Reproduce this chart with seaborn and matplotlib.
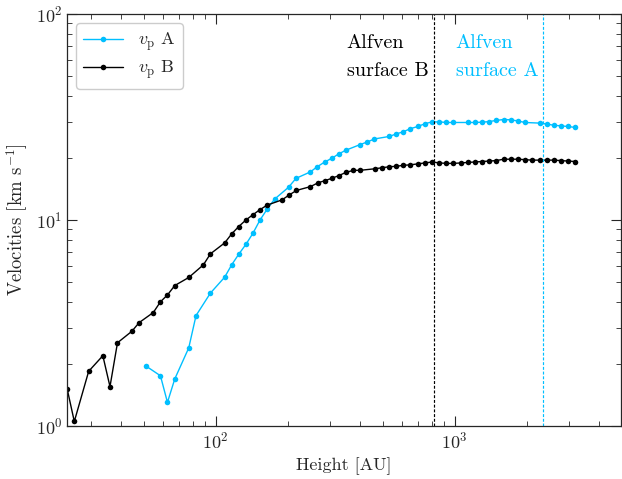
import numpy as np
import pandas as pd
import matplotlib
matplotlib.use("Agg")
import matplotlib.pyplot as plt
import seaborn as sns

# ---- data ----
height_a = [51.1, 58.7, 62.8, 67.4, 77.1, 82.7, 95.0, 109, 116.6, 124.8, 133.9, 143.2, 153, 164.3,
            176.2, 201.7, 216.6, 249, 265.6, 285.9, 305.8, 327.1, 350.8, 401.9, 431, 461, 531,
            568, 610, 652, 700, 751, 804, 863, 923, 988, 1133, 1213, 1301, 1392, 1494, 1600,
            1717, 1837, 1968, 2263, 2421, 2596, 2778, 2981, 3186]
vp_a = [1.95, 1.75, 1.30, 1.69, 2.39, 3.43, 4.41, 5.27, 6.05, 6.81, 7.62, 8.62, 9.96, 11.3,
        12.6, 14.4, 15.9, 17.1, 18.1, 19.1, 19.9, 20.9, 21.8, 23.2, 23.9, 24.7, 25.4,
        26.1, 26.8, 27.7, 28.4, 29.3, 29.9, 29.9, 29.7, 29.7, 29.7, 29.7, 29.8, 30.0, 30.4, 30.7,
        30.6, 30.2, 29.7, 29.5, 29.2, 28.8, 28.6, 28.4, 28.1]

height_b = [23.9, 25.6, 29.4, 33.7, 36.1, 38.8, 44.6, 47.8, 54.8, 58.7, 62.8, 67.4, 77.1, 88.8,
            95.0, 109, 116.6, 124.8, 133.9, 143.2, 153, 164.3, 189.3, 202.8, 217.7, 249, 267,
            285.9, 305.8, 327.1, 350.8, 376.7, 401.9, 463, 495, 531, 568, 610, 652, 700, 751,
            804, 863, 923, 988, 1060, 1133, 1213, 1301, 1392, 1494, 1600, 1717, 1837, 1968,
            2104, 2263, 2421, 2596, 2778, 2981, 3186]
vp_b = [1.51, 1.05, 1.84, 2.19, 1.55, 2.53, 2.88, 3.17, 3.55, 4.0, 4.32, 4.80, 5.25, 6.05,
        6.84, 7.73, 8.55, 9.28, 10.0, 10.6, 11.2, 11.8, 12.5, 13.2, 13.9, 14.5, 15.1,
        15.5, 15.9, 16.4, 17.0, 17.4, 17.4, 17.7, 17.9, 18.1, 18.2, 18.4, 18.5, 18.7, 18.9,
        19.1, 18.9, 18.8, 18.8, 18.9, 19.0, 19.1, 19.2, 19.3, 19.4, 19.7, 19.7, 19.7, 19.6,
        19.5, 19.5, 19.5, 19.5, 19.4, 19.3, 19.2]

alfven_b = 819
alfven_a = 2340

series_labels = [r"$v_\mathrm{p}$ A", r"$v_\mathrm{p}$ B"]
blue = "#00bfff"

# ---- style ----
sns.set_style("ticks")
plt.rcParams["font.family"] = ["serif"]
plt.rcParams["font.serif"] = ["cmr10", "DejaVu Serif"]
plt.rcParams["mathtext.fontset"] = "cm"
plt.rcParams["axes.formatter.use_mathtext"] = True
plt.rcParams["axes.unicode_minus"] = False

fig = plt.figure(figsize=(6.22, 4.79), dpi=100)
ax = fig.add_axes([0.108, 0.111, 0.890, 0.860])

df_a = pd.DataFrame({"h": height_a, "v": vp_a})
df_b = pd.DataFrame({"h": height_b, "v": vp_b})

sns.lineplot(data=df_a, x="h", y="v", ax=ax, color=blue, marker="o", markersize=4,
             markeredgewidth=0, linewidth=1, label=series_labels[0], sort=False)
sns.lineplot(data=df_b, x="h", y="v", ax=ax, color="black", marker="o", markersize=4,
             markeredgewidth=0, linewidth=1, label=series_labels[1], sort=False)

ax.set_xscale("log")
ax.set_yscale("log")
ax.set_xlim(23.9, 4950)
ax.set_ylim(1, 100)

ax.axvline(alfven_b, color="black", linestyle="--", linewidth=0.85, dashes=(2.5, 1.5))
ax.axvline(alfven_a, color=blue, linestyle="--", linewidth=0.85, dashes=(2.5, 1.5))

ax.text(0.505, 0.952, "Alfven\nsurface B", transform=ax.transAxes, color="black",
        fontsize=14.5, ha="left", va="top", linespacing=1.75)
ax.text(0.702, 0.952, "Alfven\nsurface A", transform=ax.transAxes, color=blue,
        fontsize=14.5, ha="left", va="top", linespacing=1.75)

ax.set_xlabel("Height [AU]", fontsize=13)
ax.set_ylabel(r"Velocities [km s$^{-1}$]", fontsize=13.5)

ax.tick_params(which="both", direction="in", top=True, right=True, labelsize=13)
ax.tick_params(which="major", length=7, width=0.8)
ax.tick_params(which="minor", length=3.5, width=0.6)
for s in ax.spines.values():
    s.set_linewidth(0.9)

leg = ax.legend(loc="upper left", fontsize=13, frameon=True, fancybox=True,
                edgecolor="#cccccc", framealpha=1, handlelength=2.2,
                borderpad=0.4, labelspacing=0.3)

fig.savefig("out.png", dpi=100)
